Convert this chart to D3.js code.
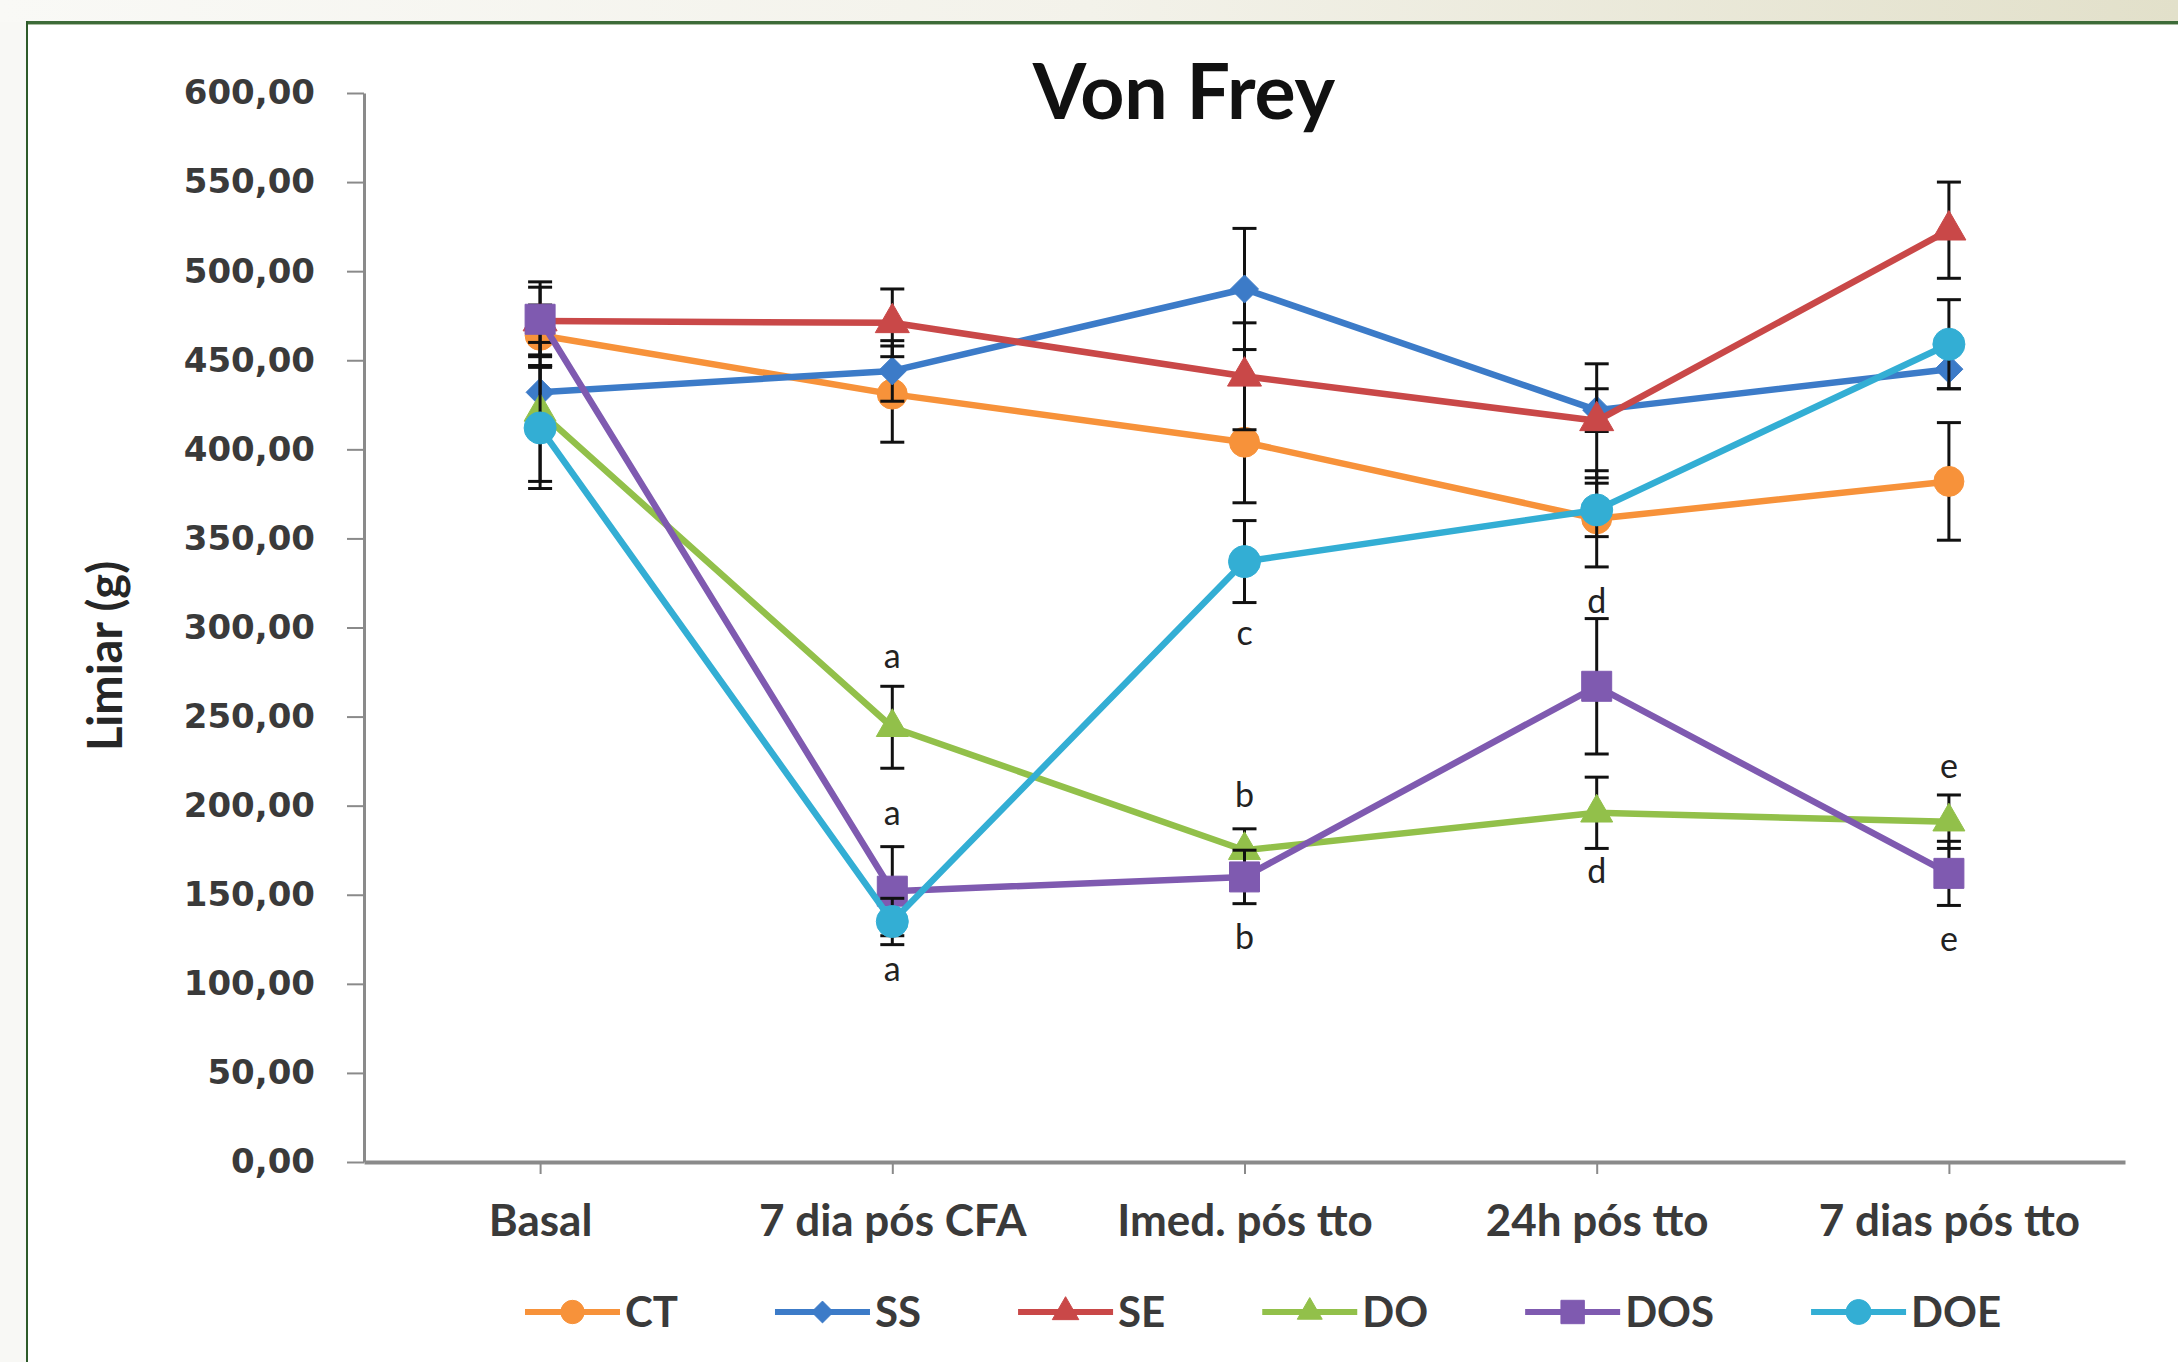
<!DOCTYPE html>
<html>
<head>
<meta charset="utf-8">
<script src="https://cdn.jsdelivr.net/npm/d3@7"></script>
<style>
  html, body { margin: 0; padding: 0; background: #f8f8f5; }
  svg { display: block; }
</style>
</head>
<body>
<script>
// ---------- DATA ----------
const categories = ["Basal", "7 dia pós CFA", "Imed. pós tto", "24h pós tto", "7 dias pós tto"];
const seriesNames = ["CT", "SS", "SE", "DO", "DOS", "DOE"];

const ctValues  = [464, 431, 404, 361, 382];
const ctErrors  = [17, 27, 34, 27, 33];
const ssValues  = [432, 444, 490, 422, 445];
const ssErrors  = [15, 17, 34, 12, 11];
const seValues  = [472, 471, 441, 416, 523];
const seErrors  = [19, 19, 30, 32, 27];
const doValues  = [421, 244, 175, 196, 191];
const doErrors  = [39, 23, 12, 20, 15];
const dosValues = [473, 152, 160, 267, 162];
const dosErrors = [21, 25, 15, 38, 18];
const doeValues = [412, 135, 337, 366, 459];
const doeErrors = [34, 13, 23, 15, 25];

const yTicks = [0, 50, 100, 150, 200, 250, 300, 350, 400, 450, 500, 550, 600];

// significance letters: category, value (y position in data units), letter
const annCategories = ["7 dia pós CFA", "7 dia pós CFA", "7 dia pós CFA", "Imed. pós tto", "Imed. pós tto", "Imed. pós tto", "24h pós tto", "24h pós tto", "7 dias pós tto", "7 dias pós tto"];
const annValues     = [284, 196, 108, 297, 206, 126, 315, 163, 222, 125];
const annLetters    = ["a", "a", "a", "c", "b", "b", "d", "d", "e", "e"];

// ---------- STYLE ----------
const seriesColors  = ["#F7923A", "#3C7BC8", "#C94848", "#92C04A", "#7F5AB0", "#33AED4"];
const seriesSymbols = ["circle", "diamond", "triangle", "triangle", "square", "circle"];
const seriesMarkerSize = [15, 14, 17, 16, 15, 16]; // half-size in px

const allValues = [ctValues, ssValues, seValues, doValues, dosValues, doeValues];
const allErrors = [ctErrors, ssErrors, seErrors, doErrors, dosErrors, doeErrors];

const W = 2178, H = 1362;
const svg = d3.select("body").append("svg").attr("width", W).attr("height", H);

// background frame
const defs = svg.append("defs");
const grad = defs.append("linearGradient").attr("id", "topband").attr("x1", "0").attr("x2", "1").attr("y1", "0").attr("y2", "0");
grad.append("stop").attr("offset", "0").attr("stop-color", "#f9f9f6");
grad.append("stop").attr("offset", "0.5").attr("stop-color", "#f3f2ea");
grad.append("stop").attr("offset", "1").attr("stop-color", "#e2e0ca");

svg.append("rect").attr("x", 0).attr("y", 0).attr("width", W).attr("height", H).attr("fill", "#f8f8f5");
svg.append("rect").attr("x", 0).attr("y", 0).attr("width", W).attr("height", 22).attr("fill", "url(#topband)");
svg.append("rect").attr("x", 27).attr("y", 23).attr("width", W - 27).attr("height", H - 23).attr("fill", "#ffffff");
svg.append("line").attr("x1", 26).attr("x2", W).attr("y1", 22.5).attr("y2", 22.5).attr("stroke", "#3d6b38").attr("stroke-width", 3);
svg.append("line").attr("x1", 28).attr("x2", W).attr("y1", 24.5).attr("y2", 24.5).attr("stroke", "#a9bca0").attr("stroke-width", 1);
svg.append("line").attr("x1", 27).attr("x2", 27).attr("y1", 21).attr("y2", H).attr("stroke", "#2e5b2a").attr("stroke-width", 2);

// ---------- SCALES ----------
const x = d3.scalePoint().domain(categories).range([364, 2125]).padding(0.5);
const y = d3.scaleLinear().domain([0, 600]).range([1162, 93]);

const fmt = d => d3.format(".2f")(d).replace(".", ",");

// Y axis
const yAxisG = svg.append("g").attr("transform", "translate(364,0)")
  .call(d3.axisLeft(y).tickValues(yTicks).tickSize(17).tickSizeOuter(0).tickPadding(32).tickFormat(fmt));
yAxisG.select(".domain").attr("stroke", "#8a8a8a").attr("stroke-width", 3);
yAxisG.selectAll(".tick line").attr("stroke", "#8a8a8a").attr("stroke-width", 2);
yAxisG.selectAll(".tick text")
  .attr("font-family", "DejaVu Sans").attr("font-weight", "bold").attr("font-size", 34).attr("fill", "#3a3a3a");

// X axis
const xAxisG = svg.append("g").attr("transform", "translate(0,1162)")
  .call(d3.axisBottom(x).tickSize(12).tickSizeOuter(0).tickPadding(31));
xAxisG.select(".domain").attr("stroke", "#8a8a8a").attr("stroke-width", 4);
xAxisG.selectAll(".tick line").attr("stroke", "#8a8a8a").attr("stroke-width", 2);
xAxisG.selectAll(".tick text")
  .attr("font-family", "Lato").attr("font-weight", "bold").attr("font-size", 44).attr("fill", "#3a3a3a");

// Title
svg.append("text").attr("x", 1184).attr("y", 119).attr("text-anchor", "middle")
  .attr("font-family", "Lato").attr("font-weight", "bold").attr("font-size", 77).attr("fill", "#111")
  .text("Von Frey");

// Y label
svg.append("text").attr("transform", "translate(122,656) rotate(-90)").attr("text-anchor", "middle")
  .attr("font-family", "Lato").attr("font-weight", "bold").attr("font-size", 47).attr("fill", "#262626")
  .text("Limiar (g)");

// marker path generator
function markerPath(kind, r) {
  if (kind === "circle") return d3.symbol(d3.symbolCircle, Math.PI * r * r)();
  if (kind === "square") return d3.symbol(d3.symbolSquare, (2 * r) * (2 * r))();
  if (kind === "diamond") {
    return `M0,${-r}L${r},0L0,${r}L${-r},0Z`;
  }
  if (kind === "triangle") {
    const s = 2 * r; // side
    const h = s * Math.sqrt(3) / 2;
    return `M0,${-h * 2 / 3}L${s / 2},${h / 3}L${-s / 2},${h / 3}Z`;
  }
}

const line = d3.line().x((d, i) => x(categories[i])).y(d => y(d));

seriesNames.forEach((name, si) => {
  const vals = allValues[si], errs = allErrors[si], col = seriesColors[si];
  const g = svg.append("g").attr("class", "series-" + name);
  g.append("path").datum(vals).attr("d", line).attr("fill", "none")
    .attr("stroke", col).attr("stroke-width", 6.5).attr("stroke-linejoin", "round");
  // error bars
  const eb = g.append("g");
  vals.forEach((v, i) => {
    const cx = x(categories[i]);
    eb.append("line").attr("x1", cx).attr("x2", cx).attr("y1", y(v - errs[i])).attr("y2", y(v + errs[i]))
      .attr("stroke", "#111").attr("stroke-width", 3);
    [v - errs[i], v + errs[i]].forEach(e => {
      eb.append("line").attr("x1", cx - 12).attr("x2", cx + 12).attr("y1", y(e)).attr("y2", y(e))
        .attr("stroke", "#111").attr("stroke-width", 3);
    });
  });
  // markers
  g.selectAll("path.marker").data(vals).join("path").attr("class", "marker")
    .attr("transform", (d, i) => `translate(${x(categories[i])},${y(d)})`)
    .attr("d", markerPath(seriesSymbols[si], seriesMarkerSize[si]))
    .attr("fill", col).attr("stroke", col).attr("stroke-width", 1);
});

// annotation letters
svg.append("g").selectAll("text").data(annLetters).join("text")
  .attr("x", (d, i) => x(annCategories[i]))
  .attr("y", (d, i) => y(annValues[i]))
  .attr("dy", "0.35em")
  .attr("text-anchor", "middle")
  .attr("font-family", "Lato").attr("font-size", 34).attr("fill", "#222")
  .text(d => d);

// legend
const legend = svg.append("g").attr("transform", "translate(0,1312)");
let lx = 525;
seriesNames.forEach((name, si) => {
  const col = seriesColors[si];
  const item = legend.append("g").attr("transform", `translate(${lx},0)`);
  item.append("line").attr("x1", 0).attr("x2", 95).attr("y1", 0).attr("y2", 0)
    .attr("stroke", col).attr("stroke-width", 6);
  item.append("path").attr("transform", "translate(47.5,0)")
    .attr("d", markerPath(seriesSymbols[si], seriesMarkerSize[si] * 0.78))
    .attr("fill", col).attr("stroke", col);
  const t = item.append("text").attr("x", 100).attr("y", 0).attr("dy", "0.36em")
    .attr("font-family", "Lato").attr("font-weight", "bold").attr("font-size", 42).attr("fill", "#3a3a3a")
    .text(name);
  lx += 100 + t.node().getComputedTextLength() + 97;
});
</script>
</body>
</html>
